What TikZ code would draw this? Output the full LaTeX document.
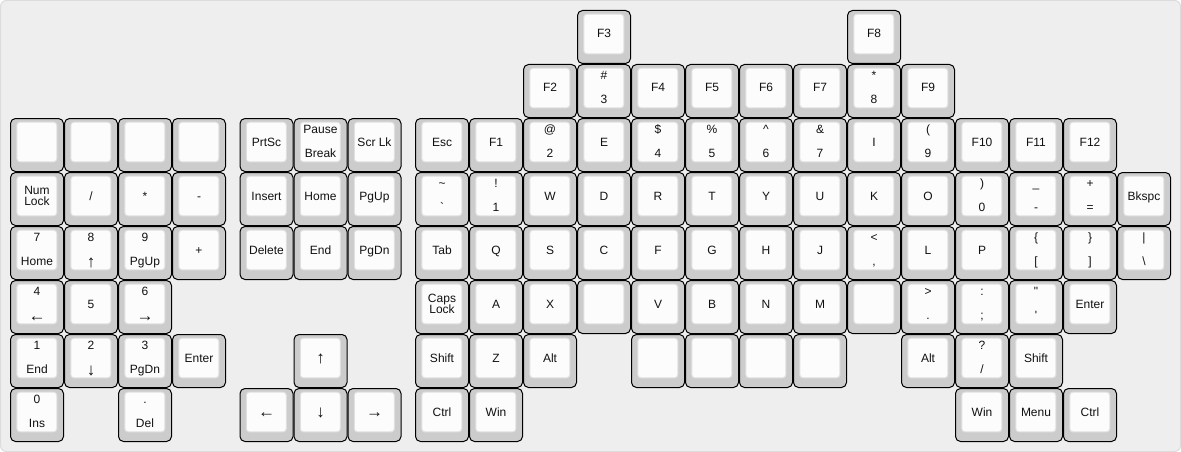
\documentclass[tikz,border=0pt]{standalone}
\usepackage{fontspec}
\setmainfont{Liberation Sans}[Ligatures=TeXOff]
\definecolor{bgfill}{HTML}{EEEEEE}
\definecolor{bgline}{HTML}{DCDCDC}
\definecolor{capside}{HTML}{CCCCCC}
\definecolor{captop}{HTML}{FCFCFC}
\definecolor{capedge}{HTML}{E0E0E0}
\definecolor{capink}{HTML}{111111}
\tikzset{
  capouter/.style={draw=black, line width=1pt, fill=capside, rounded corners=5pt},
  capinner/.style={draw=capedge, line width=1pt, fill=captop, rounded corners=3pt},
  lbl/.style={anchor=base, inner sep=0pt, outer sep=0pt, font=\fontsize{12}{14}\selectfont, text=capink},
}
\newcommand\arw[1]{{\fontsize{17}{17}\selectfont\raisebox{-1.5pt}{#1}}}
\newcount\kno
\newcommand\capbody[2]{%
  \pgfmathsetmacro\kx{10+54*#1}%
  \pgfmathsetmacro\ky{10+54*#2}%
  \global\advance\kno by 1
  \edef\kname{k\the\kno}%
  \draw[capouter] (\kx+0.5,\ky+0.5) rectangle ++(53,53);
  \draw[capinner] (\kx+6.8,\ky+4.2) rectangle ++(40,39.6);
}
\newcommand\bk[2]{\capbody{#1}{#2}}
\newcommand\sk[3]{\capbody{#1}{#2}\node[lbl] (\kname) at (\kx+27,\ky+28) {#3};}
\newcommand\dk[4]{\capbody{#1}{#2}%
  \node[lbl] (\kname a) at (\kx+27,\ky+15.5) {#3};
  \node[lbl] (\kname b) at (\kx+27,\ky+39.5) {#4};}
\newcommand\tk[4]{\capbody{#1}{#2}%
  \node[lbl] (\kname a) at (\kx+27,\ky+22) {#3};
  \node[lbl] (\kname b) at (\kx+27,\ky+33.6) {#4};}
\begin{document}
\begin{tikzpicture}[x=1pt,y=-1pt]
\useasboundingbox (0,0) rectangle (1181,452);
\draw[fill=bgfill, draw=bgline, line width=1pt, rounded corners=6pt] (0.5,0.5) rectangle (1180.5,451.5);
% row 0
\sk{10.5}{0}{F3}
\sk{15.5}{0}{F8}
% row 1
\sk{9.5}{1}{F2}
\dk{10.5}{1}{\#}{3}
\sk{11.5}{1}{F4}
\sk{12.5}{1}{F5}
\sk{13.5}{1}{F6}
\sk{14.5}{1}{F7}
\dk{15.5}{1}{*}{8}
\sk{16.5}{1}{F9}
% row 2
\bk{0}{2}\bk{1}{2}\bk{2}{2}\bk{3}{2}
\sk{4.25}{2}{PrtSc}
\dk{5.25}{2}{Pause}{Break}
\sk{6.25}{2}{Scr Lk}
\sk{7.5}{2}{Esc}
\sk{8.5}{2}{F1}
\dk{9.5}{2}{@}{2}
\sk{10.5}{2}{E}
\dk{11.5}{2}{\$}{4}
\dk{12.5}{2}{\%}{5}
\dk{13.5}{2}{\textasciicircum}{6}
\dk{14.5}{2}{\&}{7}
\sk{15.5}{2}{I}
\dk{16.5}{2}{(}{9}
\sk{17.5}{2}{F10}
\sk{18.5}{2}{F11}
\sk{19.5}{2}{F12}
% row 3
\tk{0}{3}{Num}{Lock}
\sk{1}{3}{/}
\sk{2}{3}{*}
\sk{3}{3}{-}
\sk{4.25}{3}{Insert}
\sk{5.25}{3}{Home}
\sk{6.25}{3}{PgUp}
\dk{7.5}{3}{\textasciitilde}{`}
\dk{8.5}{3}{!}{1}
\sk{9.5}{3}{W}
\sk{10.5}{3}{D}
\sk{11.5}{3}{R}
\sk{12.5}{3}{T}
\sk{13.5}{3}{Y}
\sk{14.5}{3}{U}
\sk{15.5}{3}{K}
\sk{16.5}{3}{O}
\dk{17.5}{3}{)}{0}
\dk{18.5}{3}{\_}{-}
\dk{19.5}{3}{+}{=}
\sk{20.5}{3}{Bkspc}
% row 4
\dk{0}{4}{7}{Home}
\dk{1}{4}{8}{\arw{↑}}
\dk{2}{4}{9}{PgUp}
\sk{3}{4}{+}
\sk{4.25}{4}{Delete}
\sk{5.25}{4}{End}
\sk{6.25}{4}{PgDn}
\sk{7.5}{4}{Tab}
\sk{8.5}{4}{Q}
\sk{9.5}{4}{S}
\sk{10.5}{4}{C}
\sk{11.5}{4}{F}
\sk{12.5}{4}{G}
\sk{13.5}{4}{H}
\sk{14.5}{4}{J}
\dk{15.5}{4}{<}{,}
\sk{16.5}{4}{L}
\sk{17.5}{4}{P}
\dk{18.5}{4}{\{}{[}
\dk{19.5}{4}{\}}{]}
\dk{20.5}{4}{|}{\textbackslash}
% row 5
\dk{0}{5}{4}{\arw{←}}
\sk{1}{5}{5}
\dk{2}{5}{6}{\arw{→}}
\tk{7.5}{5}{Caps}{Lock}
\sk{8.5}{5}{A}
\sk{9.5}{5}{X}
\bk{10.5}{5}
\sk{11.5}{5}{V}
\sk{12.5}{5}{B}
\sk{13.5}{5}{N}
\sk{14.5}{5}{M}
\bk{15.5}{5}
\dk{16.5}{5}{>}{.}
\dk{17.5}{5}{:}{;}
\dk{18.5}{5}{"}{'}
\sk{19.5}{5}{Enter}
% row 6
\dk{0}{6}{1}{End}
\dk{1}{6}{2}{\arw{↓}}
\dk{2}{6}{3}{PgDn}
\sk{3}{6}{Enter}
\sk{5.25}{6}{\arw{↑}}
\sk{7.5}{6}{Shift}
\sk{8.5}{6}{Z}
\sk{9.5}{6}{Alt}
\bk{11.5}{6}\bk{12.5}{6}\bk{13.5}{6}\bk{14.5}{6}
\sk{16.5}{6}{Alt}
\dk{17.5}{6}{?}{/}
\sk{18.5}{6}{Shift}
% row 7
\dk{0}{7}{0}{Ins}
\dk{2}{7}{.}{Del}
\sk{4.25}{7}{\arw{←}}
\sk{5.25}{7}{\arw{↓}}
\sk{6.25}{7}{\arw{→}}
\sk{7.5}{7}{Ctrl}
\sk{8.5}{7}{Win}
\sk{17.5}{7}{Win}
\sk{18.5}{7}{Menu}
\sk{19.5}{7}{Ctrl}
\end{tikzpicture}
\end{document}
